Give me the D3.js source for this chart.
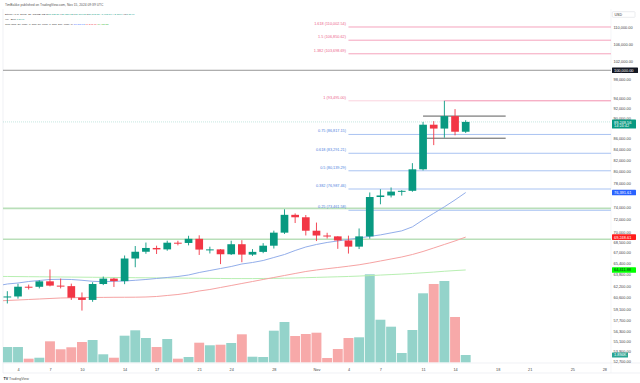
<!DOCTYPE html>
<html><head><meta charset="utf-8">
<script src="https://cdn.jsdelivr.net/npm/d3@7"></script>
<style>html,body{margin:0;padding:0;background:#fff;}svg{display:block;font-family:"Liberation Sans",Arial,sans-serif;}</style>
</head><body><svg id="c" width="640" height="383"></svg>
<script>
// ---------- DATA ----------
const dates = ["2024-10-03","2024-10-04","2024-10-05","2024-10-06","2024-10-07","2024-10-08","2024-10-09","2024-10-10","2024-10-11","2024-10-12","2024-10-13","2024-10-14","2024-10-15","2024-10-16","2024-10-17","2024-10-18","2024-10-19","2024-10-20","2024-10-21","2024-10-22","2024-10-23","2024-10-24","2024-10-25","2024-10-26","2024-10-27","2024-10-28","2024-10-29","2024-10-30","2024-10-31","2024-11-01","2024-11-02","2024-11-03","2024-11-04","2024-11-05","2024-11-06","2024-11-07","2024-11-08","2024-11-09","2024-11-10","2024-11-11","2024-11-12","2024-11-13","2024-11-14","2024-11-15"];
const open  = [60630,60760,62080,62070,62820,62230,62160,60600,60300,62450,63200,62850,66060,67050,67610,67400,68400,68360,68990,67370,67400,66680,68170,66630,67030,67950,69930,72730,72340,70230,69490,69360,68740,67810,69360,75640,75900,76550,76680,80400,88700,87950,90400,87338.56];
const high  = [61470,62480,62370,62970,64480,63200,62500,61300,62700,63480,63300,66500,67900,68420,67950,68700,68690,69450,69520,67800,67450,68700,68780,67440,68330,70240,73620,72960,72700,71500,69910,69380,69470,70580,76400,76950,77250,76800,81500,89250,89400,93495,91800,89580.32];
const low   = [59830,60470,61700,61850,62130,61850,60300,58900,60050,62300,62050,62430,64800,66750,66720,67200,68000,68000,66580,66800,65250,66570,65520,66440,66840,67530,69730,71430,69500,68650,69030,67480,66783.58,67450,69010,74440,75570,75880,76520,80200,84800,86200,86650,87100.83];
const close = [60760,62080,62070,62820,62230,62160,60600,60300,62450,63200,62850,66060,67050,67610,67400,68400,68360,68990,67370,67400,66680,68170,66630,67030,67950,69930,72730,72340,70230,69490,69360,68740,67810,69360,75640,75900,76550,76680,80400,88700,87950,90400,87340.40,89248.56];
const volumeK = [3.97,3.97,0.94,1.19,5.45,3.38,3.90,5.27,5.79,2.08,1.19,6.91,8.31,6.31,3.97,6.05,0.94,1.38,5.09,4.42,4.57,5.01,7.27,1.45,1.38,8.21,10.47,6.83,7.35,7.69,1.12,3.45,6.31,6.49,22.86,11.06,9.25,2.42,8.39,17.92,20.34,21.12,11.77,1.894];
const maDates = ["2024-10-02"].concat(dates);
const sma20  = [62178,62453,62590,62797,62936,63075,63102,63075,62964,62825,62770,62825,62867,62964,63075,63214,63353,63493,63703,64054,64337,64621,64906,65265,65481,65770,66206,66643,67234,67756,68133,68436,68664,68892,69122,69353,69585,69894,70205,70828,71930,72970,74024,75160,76391.61];
const sma50  = [60157,60224,60290,60357,60423,60490,60556,60583,60623,60630,60636,60650,60655,60663,60690,60757,60891,61025,61228,61497,61701,61973,62246,62522,62797,63075,63353,63633,63914,64196,64410,64594,64765,64951,65151,65410,65699,65989,66280,66647,67090,67610,68135,68665,69248.61];
const sma200 = [63510,63496,63482,63468,63454,63440,63426,63412,63398,63384,63370,63356,63342,63328,63314,63300,63286,63272,63258,63244,63230,63216,63202,63202,63202,63216,63230,63258,63286,63328,63370,63412,63454,63496,63552,63622,63693,63763,63834,63918,64017,64116,64229,64327,64411.88];
const priceTicks = [110000,106000,102000,98000,94000,92000,90000,86000,84000,82000,80000,78000,74000,72000,70000,68500,67000,65400,63800,62200,60600,59100,57700,56300,55100,53900,52700];
const dateTicks = ["2024-10-04","2024-10-07","2024-10-10","2024-10-14","2024-10-17","2024-10-21","2024-10-24","2024-10-28","2024-11-01","2024-11-04","2024-11-07","2024-11-11","2024-11-14","2024-11-18","2024-11-21","2024-11-25","2024-11-28"];
const fibLabels = ["1.618","1.5","1.382","1","0.75","0.618","0.5","0.382","0.25"];
const fibPrices = [110002.54,106850.62,103698.69,93495.00,86817.15,83291.21,80139.29,76987.46,73461.58];
const fibStart = "2024-11-04", fibEnd = "2024-11-13";
const supportLevels = [73770, 68920];
const roundLevel = 100000;
const boxLevels = [90400, 86100];
const boxStart = ["2024-11-11T00:00Z","2024-11-11T08:00Z"], boxEnd = "2024-11-18T18:00Z";

// ---------- SETUP ----------
const svg = d3.select("#c");
const W = 640, H = 383;
const paneL = 3, paneR = 611, paneT = 9, paneB = 363;
const TEAL = "#089981", RED = "#f23645";
const P = s => new Date(s.length > 10 ? s : s + "T00:00Z");

const x = d3.scaleUtc().domain([P(dates[0]), P(dates[dates.length - 1])]).range([7.34, 465.7]);
const y = d3.scaleLog().domain([110000, 50000]).range([27, 27 + 454 * Math.log(110000 / 50000)]);
const yv = d3.scaleLinear().domain([0, 30]).range([362.3, 362.3 - 115.5]);

svg.append("rect").attr("width", W).attr("height", H).attr("fill", "#fff");
svg.append("defs").append("clipPath").attr("id", "pane").append("rect")
  .attr("x", paneL).attr("y", paneT).attr("width", paneR - paneL).attr("height", paneB - paneT);

// frame
svg.append("line").attr("x1", paneL).attr("x2", paneL).attr("y1", paneT).attr("y2", 373).attr("stroke", "#e6e8ee").attr("stroke-width", 0.6);
svg.append("line").attr("x1", paneL).attr("x2", W).attr("y1", paneB).attr("y2", paneB).attr("stroke", "#e6e8ee").attr("stroke-width", 0.6);
svg.append("line").attr("x1", paneL).attr("x2", W).attr("y1", 373).attr("y2", 373).attr("stroke", "#e6e8ee").attr("stroke-width", 0.6);
svg.append("line").attr("x1", paneR).attr("x2", paneR).attr("y1", paneT).attr("y2", 373).attr("stroke", "#eef0f3").attr("stroke-width", 0.6);

const g = svg.append("g").attr("clip-path", "url(#pane)");

// volume
const vol = dates.map((d, i) => ({d: P(d), v: volumeK[i], up: close[i] >= open[i]}));
g.selectAll("rect.vol").data(vol).join("rect").attr("class", "vol")
  .attr("x", d => x(d.d) - 4.95).attr("width", 9.9)
  .attr("y", d => yv(d.v)).attr("height", d => yv(0) - yv(d.v))
  .attr("fill", d => d.up ? "#94d3ca" : "#f7a9a9");

// horizontal levels
g.selectAll("line.sup").data(supportLevels).join("line").attr("class", "sup")
  .attr("x1", paneL).attr("x2", paneR).attr("y1", d => y(d)).attr("y2", d => y(d))
  .attr("stroke", "#b9dfb9").attr("stroke-width", 1.6);
g.append("line").attr("x1", paneL).attr("x2", paneR).attr("y1", y(roundLevel)).attr("y2", y(roundLevel))
  .attr("stroke", "#8a8a8a").attr("stroke-width", 0.9);

// fib
const fx0 = x(P(fibStart)), fx1 = x(P(fibEnd));
fibPrices.forEach((p, i) => {
  const pink = +fibLabels[i] >= 1;
  const col = pink ? "#f5a3bd" : "#a9c3f2";
  if (fibLabels[i] === "1") {
    g.append("line").attr("x1", fx0).attr("x2", fx1).attr("y1", y(p)).attr("y2", y(p)).attr("stroke", "#fbd3de").attr("stroke-width", 1);
    g.append("line").attr("x1", fx1).attr("x2", paneR).attr("y1", y(p)).attr("y2", y(p)).attr("stroke", "#f38fae").attr("stroke-width", 1);
  } else {
    g.append("line").attr("x1", fx0).attr("x2", paneR).attr("y1", y(p)).attr("y2", y(p)).attr("stroke", col).attr("stroke-width", 1);
  }
  g.append("text").attr("x", fx0 - 2.5).attr("y", y(p) - 2).attr("text-anchor", "end")
    .attr("font-size", 3.8).attr("fill", pink ? "#ec5f8c" : "#4f7fe0")
    .text(fibLabels[i] + " (" + d3.format(",.2f")(p) + ")");
});

// current price line
g.append("line").attr("x1", paneL).attr("x2", paneR).attr("y1", y(close[close.length-1])).attr("y2", y(close[close.length-1]))
  .attr("stroke", "#9fd6cc").attr("stroke-width", 0.6).attr("stroke-dasharray", "1,1");

// MAs
const maLine = arr => d3.line().x((d, i) => x(P(maDates[i]))).y(d => y(d))(arr);
g.append("path").attr("d", maLine(sma200)).attr("fill", "none").attr("stroke", "#b8efb2").attr("stroke-width", 1);
g.append("path").attr("d", maLine(sma50)).attr("fill", "none").attr("stroke", "#f6a3a3").attr("stroke-width", 1);
g.append("path").attr("d", maLine(sma20)).attr("fill", "none").attr("stroke", "#93aeea").attr("stroke-width", 1);

// box lines
boxLevels.forEach((p, i) => {
  g.append("line").attr("x1", x(P(boxStart[i]))).attr("x2", x(P(boxEnd))).attr("y1", y(p)).attr("y2", y(p))
    .attr("stroke", "#4a4a4a").attr("stroke-width", 0.9);
});

// candles
const cd = dates.map((d, i) => ({d: P(d), o: open[i], h: high[i], l: low[i], c: close[i]}));
const cg = g.selectAll("g.c").data(cd).join("g").attr("class", "c");
cg.append("line").attr("x1", d => x(d.d)).attr("x2", d => x(d.d))
  .attr("y1", d => y(d.h)).attr("y2", d => y(d.l))
  .attr("stroke", d => d.c >= d.o ? TEAL : RED).attr("stroke-width", 0.9);
cg.append("rect").attr("x", d => x(d.d) - 3.85).attr("width", 7.7)
  .attr("y", d => y(Math.max(d.o, d.c))).attr("height", d => Math.max(1, y(Math.min(d.o, d.c)) - y(Math.max(d.o, d.c))))
  .attr("fill", d => d.c >= d.o ? TEAL : RED);

// ---------- AXES ----------
const fmtDate = d => d.getUTCDate() === 1 ? d3.utcFormat("%b")(d) : d3.utcFormat("%-d")(d);
const xa = svg.append("g").attr("transform", `translate(0,${paneB})`)
  .call(d3.axisBottom(x).tickValues(dateTicks.map(P)).tickFormat(fmtDate).tickSize(0).tickPadding(5.5));
xa.select(".domain").remove();
xa.selectAll("text").attr("font-size", 3.8).attr("fill", "#444").attr("font-family", "Liberation Sans, Arial, sans-serif");

const ya = svg.append("g").attr("transform", `translate(${paneR},0)`)
  .call(d3.axisRight(y).tickValues(priceTicks).tickFormat(d3.format(",.2f")).tickSize(0).tickPadding(2.5));
ya.select(".domain").remove();
ya.selectAll("text").attr("font-size", 3.9).attr("fill", "#444").attr("font-family", "Liberation Sans, Arial, sans-serif");

// badges
function badge(yc, txt, bg, fg, w, h, txt2) {
  const b = svg.append("g");
  b.append("rect").attr("x", 612).attr("y", yc - h / 2).attr("width", w).attr("height", h).attr("rx", 0.6).attr("fill", bg);
  if (txt2) {
    b.append("text").attr("x", 614).attr("y", yc - 0.6).attr("font-size", 3.9).attr("fill", fg).text(txt);
    b.append("text").attr("x", 614).attr("y", yc + 3.2).attr("font-size", 3.9).attr("fill", fg).text(txt2);
  } else {
    b.append("text").attr("x", 614).attr("y", yc + 1.4).attr("font-size", 3.9).attr("fill", fg).text(txt);
  }
}
const f2 = d3.format(",.2f");
badge(y(roundLevel), f2(roundLevel), "#131722", "#fff", 26, 5.6);
badge(y(close[close.length-1]) + 2.2, f2(close[close.length-1]), TEAL, "#fff", 24, 9, "14:24:42");
badge(y(sma20[sma20.length-1]), f2(sma20[sma20.length-1]), "#2962ff", "#fff", 24, 5.6);
badge(y(sma50[sma50.length-1]), f2(sma50[sma50.length-1]), "#ff1c1c", "#fff", 24, 5.6);
badge(y(sma200[sma200.length-1]), f2(sma200[sma200.length-1]), "#00ff00", "#131722", 24, 5.6);
badge(yv(volumeK[volumeK.length-1]), d3.format(".3f")(volumeK[volumeK.length-1]) + "K", "#2aa594", "#fff", 16, 5);

// USD box
svg.append("rect").attr("x", 612.3).attr("y", 11.7).attr("width", 22.7).attr("height", 5.6).attr("fill", "#fff").attr("stroke", "#d6d8de").attr("stroke-width", 0.5).attr("rx", 0.8);
svg.append("text").attr("x", 614.5).attr("y", 15.8).attr("font-size", 3.6).attr("fill", "#333").text("USD");

// ---------- LEGEND ----------
svg.append("text").attr("x", 5).attr("y", 6.2).attr("font-size", 3.3).attr("fill", "#555")
  .text("TimBakke published on TradingView.com, Nov 15, 2024 09:39 UTC");
const l1 = svg.append("text").attr("x", 5).attr("y", 15).attr("font-size", 2.5).attr("fill", "#333");
l1.append("tspan").text("Bitcoin / U.S. Dollar, 1D, COINBASE  O");
l1.append("tspan").attr("fill", TEAL).text(f2(open[43]));
l1.append("tspan").text(" H");
l1.append("tspan").attr("fill", TEAL).text(f2(high[43]));
l1.append("tspan").text(" L");
l1.append("tspan").attr("fill", TEAL).text(f2(low[43]));
l1.append("tspan").text(" C");
l1.append("tspan").attr("fill", TEAL).text(f2(close[43]) + " +1,908.16 (+2.18%)");
l1.append("tspan").text(" Vol");
l1.append("tspan").attr("fill", TEAL).text("1.894K");
const l2 = svg.append("text").attr("x", 5).attr("y", 20).attr("font-size", 2.5).attr("fill", "#333");
l2.append("tspan").text("Vol · BTC  ");
l2.append("tspan").attr("fill", TEAL).text("1.894K");
const l3 = svg.append("text").attr("x", 5).attr("y", 25.2).attr("font-size", 2.5).attr("fill", "#333");
l3.append("tspan").text("3Ma (sma, 20, close, 0, sma, 50, close, 0, sma, 200, close, 0)  ");
l3.append("tspan").attr("fill", "#2962ff").text(f2(sma20[44]) + " ");
l3.append("tspan").attr("fill", "#f23645").text(f2(sma50[44]) + " ");
l3.append("tspan").attr("fill", "#22b122").text(f2(sma200[44]));

// TradingView logo
const lg = svg.append("text").attr("x", 3.5).attr("y", 379.5).attr("font-size", 3.6).attr("fill", "#131722");
lg.append("tspan").attr("font-weight", "bold").text("TV ");
lg.append("tspan").attr("fill", "#555").text("TradingView");
</script></body></html>
